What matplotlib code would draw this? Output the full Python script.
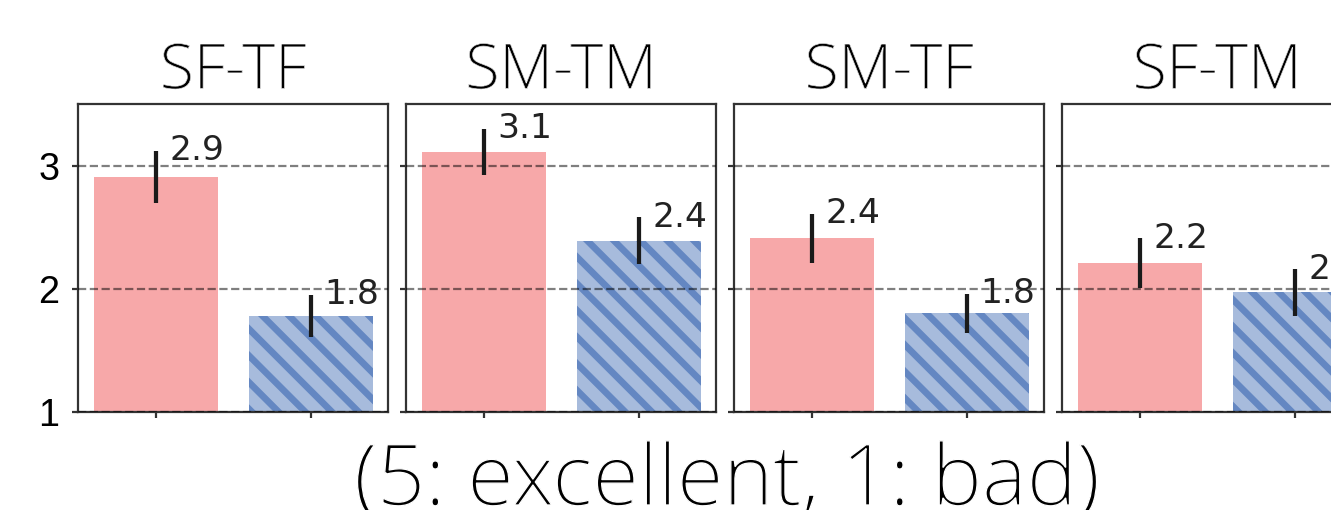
import matplotlib
matplotlib.use('Agg')
import matplotlib.pyplot as plt
import matplotlib.patheffects as pe

# mean opinion scores per speaker/target pair (two systems each)
groups = ['SF-TF', 'SM-TM', 'SM-TF', 'SF-TM']
score_a = [2.91, 3.11, 2.41, 2.21]
score_b = [1.78, 2.39, 1.80, 1.97]
err_a = [0.21, 0.19, 0.20, 0.20]
err_b = [0.17, 0.19, 0.16, 0.19]
yticks = [1, 2, 3]

W, H, DPI = 1331, 510, 160
plt.rcParams['hatch.linewidth'] = 3.0

fig = plt.figure(figsize=(W / DPI, H / DPI), dpi=DPI)

red = '#f7a8a9'
blue_face = '#a7bbdc'
blue_hatch = '#6487c2'

# white outline drawn over the glyphs to get a lighter stroke weight
def thin(w):
    return [pe.Normal(), pe.Stroke(linewidth=w, foreground='white')]

for i, name in enumerate(groups):
    left = 78 + i * 328
    ax = fig.add_axes([left / W, (510 - 412) / H, 310 / W, 308 / H])
    ax.bar(0, score_a[i], width=0.8, color=red, zorder=1)
    ax.bar(1, score_b[i], width=0.8, color=blue_face, edgecolor=blue_hatch,
           hatch='\\\\', linewidth=0, zorder=1)
    ax.errorbar([0, 1], [score_a[i], score_b[i]], yerr=[err_a[i], err_b[i]],
                fmt='none', ecolor='#1a1a1a', elinewidth=1.9, capsize=0, zorder=3)
    for x, v, e in [(0, score_a[i], err_a[i]), (1, score_b[i], err_b[i])]:
        ax.text(x + 0.09, v + e, f'{v:.1f}', va='center', ha='left',
                fontsize=15.5, color='#222222', family='DejaVu Sans',
                clip_on=False, zorder=4)

    ax.set_xlim(-0.5, 1.5)
    ax.set_ylim(1, 3.5)
    ax.set_xticks([0, 1])
    ax.set_xticklabels([])
    ax.set_yticks(yticks)
    if i == 0:
        ax.set_yticklabels([str(t) for t in yticks], family='Liberation Sans', fontsize=17)
    else:
        ax.set_yticklabels([])
    ax.tick_params(length=2.5, width=1, color='#333333', pad=6)
    ax.grid(axis='y', linestyle='--', color='k', alpha=0.5, linewidth=1, zorder=2)
    ax.set_axisbelow(False)
    for s in ax.spines.values():
        s.set_color('#333333')
        s.set_linewidth(1)
    t = ax.set_title(name, fontsize=28, family='Open Sans', fontweight='light', pad=7)
    t.set_path_effects(thin(0.3))

fig.text(727 / W, 5 / H, '(5: excellent, 1: bad)', ha='center', va='baseline',
         fontsize=38, family='Open Sans', fontweight='light',
         path_effects=thin(0.6))

fig.savefig('out.png', dpi=DPI)
